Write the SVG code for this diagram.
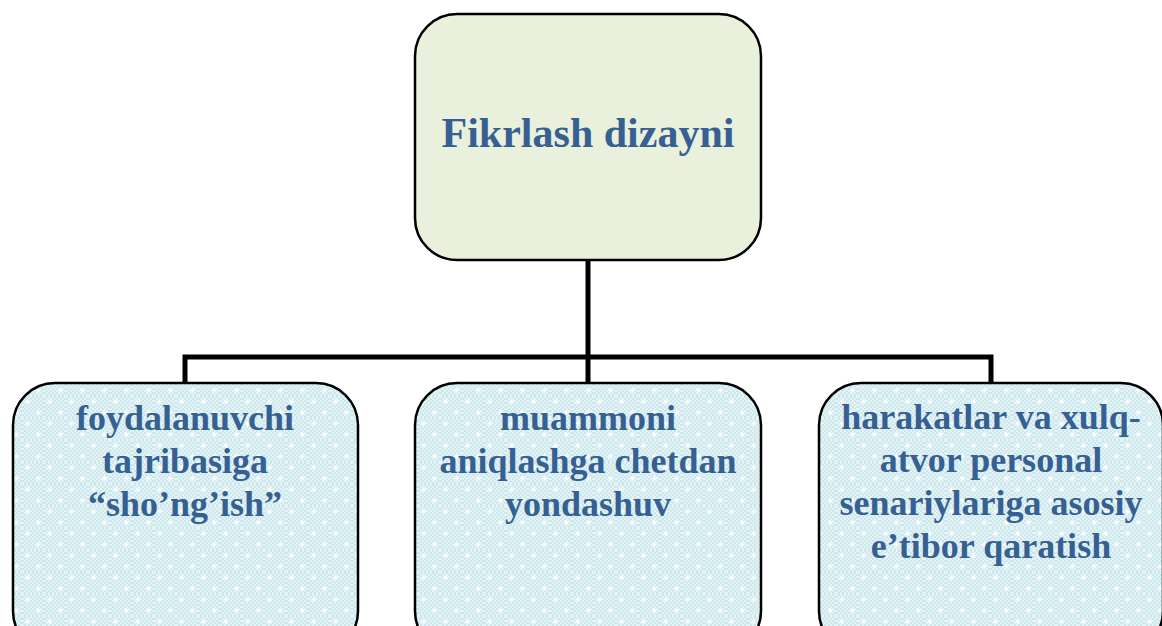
<svg xmlns="http://www.w3.org/2000/svg" width="1162" height="626" viewBox="0 0 1162 626">
<defs>
<pattern id="chk" width="4" height="4" patternUnits="userSpaceOnUse">
<rect width="4" height="4" fill="#cde8ed"/>
<rect width="2" height="2" fill="#e4f3f5"/>
<rect x="2" y="2" width="2" height="2" fill="#e4f3f5"/>
</pattern>
<pattern id="dots" width="22" height="22" patternUnits="userSpaceOnUse">
<rect width="22" height="22" fill="url(#chk)"/>
<path d="M5.5 3v5M3 5.5h5M16.5 14v5M14 16.5h5" stroke="#ffffff" stroke-width="1.3" opacity="0.9"/>
<circle cx="5.5" cy="5.5" r="1.2" fill="#fff"/>
<circle cx="16.5" cy="16.5" r="1.2" fill="#fff"/>
</pattern>
</defs>
<style>
.top{fill:#e9f0dc;stroke:#000;stroke-width:2.5}
.sub{fill:url(#dots);stroke:#000;stroke-width:2.5}
.t{font-family:"Liberation Serif","Times New Roman",serif;font-weight:bold;fill:#376092;text-anchor:middle}
.title{font-size:42px}
.lbl{font-size:36px}
.conn{fill:none;stroke:#000;stroke-width:5}
</style>
<rect width="1162" height="626" fill="#ffffff"/>
<g id="connectors">
<path class="conn" d="M588 260V357"/>
<path class="conn" d="M185 383V357H991V383"/>
<path class="conn" d="M588 357V383"/>
</g>
<g id="node-root">
<rect class="top" x="415" y="14" width="346" height="246" rx="42"/>
<text class="t title" x="588" y="147">Fikrlash dizayni</text>
</g>
<g id="node-left">
<rect class="sub" x="13" y="383" width="345" height="270" rx="42"/>
<text class="t lbl" x="185" y="430">foydalanuvchi</text>
<text class="t lbl" x="185" y="473">tajribasiga</text>
<text class="t lbl" x="185" y="516">“sho’ng’ish”</text>
</g>
<g id="node-middle">
<rect class="sub" x="415" y="383" width="346" height="270" rx="42"/>
<text class="t lbl" x="588" y="430">muammoni</text>
<text class="t lbl" x="588" y="473">aniqlashga chetdan</text>
<text class="t lbl" x="588" y="516">yondashuv</text>
</g>
<g id="node-right">
<rect class="sub" x="819" y="383" width="344" height="270" rx="42"/>
<text class="t lbl" x="991" y="429">harakatlar va xulq-</text>
<text class="t lbl" x="991" y="472">atvor personal</text>
<text class="t lbl" x="991" y="515">senariylariga asosiy</text>
<text class="t lbl" x="991" y="558">e’tibor qaratish</text>
</g>
</svg>
